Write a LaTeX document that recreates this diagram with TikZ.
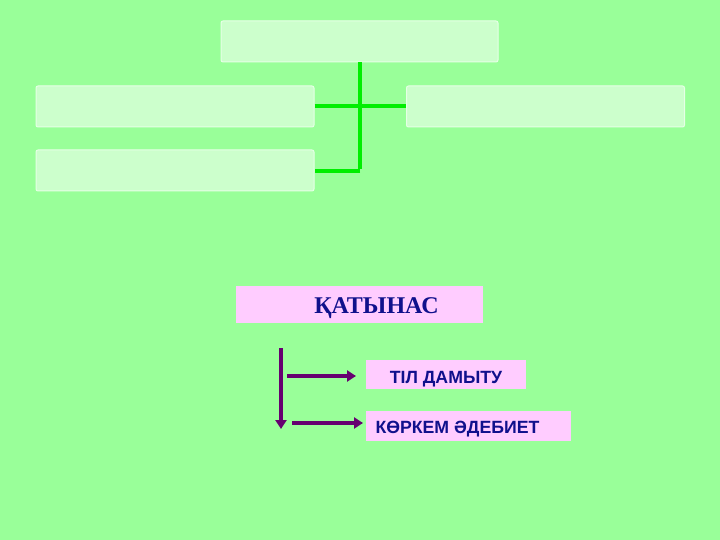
\documentclass[tikz,border=0pt]{standalone}
\usepackage{fontspec}
\setmainfont{Liberation Serif}
\newfontfamily\arialfont{Liberation Sans}
\usetikzlibrary{arrows.meta}
\definecolor{bg}{HTML}{99FF99}
\definecolor{boxfill}{HTML}{CCFFCC}
\definecolor{boxedge}{HTML}{E6FFE6}
\definecolor{linegreen}{HTML}{00EE00}
\definecolor{pinkfill}{HTML}{FFCCFF}
\definecolor{navy}{HTML}{10108C}
\definecolor{plum}{HTML}{660070}
\tikzset{
  greenbox/.style={draw=boxedge, line width=1pt, fill=boxfill, rounded corners=2pt, inner sep=0pt},
  pinkbox/.style={fill=pinkfill, inner sep=0pt},
  treeline/.style={draw=linegreen, line width=3.2pt},
  purplearrow/.style={draw=plum, line width=4pt, -{Triangle[length=9pt,width=11pt]}},
}
\begin{document}
\begin{tikzpicture}[x=1pt,y=-1pt]
\fill[bg] (0,0) rectangle (720,540);
\useasboundingbox (0,0) rectangle (720,540);
% green boxes
\node[greenbox, minimum width=277pt, minimum height=41pt] (top) at (359.5,41.5) {};
\node[greenbox, minimum width=278pt, minimum height=41pt] (left1) at (175,106.5) {};
\node[greenbox, minimum width=278pt, minimum height=41pt] (right1) at (545.5,106.5) {};
\node[greenbox, minimum width=278pt, minimum height=41pt] (left2) at (175,170.5) {};
\coordinate (jbot) at (360,171);
\coordinate (jmid) at (360,106);
% green connectors
\draw[treeline] (top.south -| jbot) -- ([yshift=1.6pt]jbot);
\draw[treeline] (left1.east |- jmid) -- (right1.west |- jmid);
\draw[treeline] (jbot) -- (left2.east |- jbot);
% pink boxes
\node[pinkbox, minimum width=247pt, minimum height=37pt] (kat) at (359.5,304) {};
\node[text=navy, font=\bfseries\fontsize{24}{26}\selectfont, anchor=base] (kattext) at (376.5,313.5) {ҚАТЫНАС};
\node[pinkbox, minimum width=160pt, minimum height=29pt] (til) at (445.7,374.7) {};
\node[text=navy, font=\arialfont\bfseries\fontsize{17.7}{19}\selectfont, anchor=base] (tiltext) at (446,383) {ТІЛ ДАМЫТУ};
\node[pinkbox, minimum width=205pt, minimum height=30pt] (kor) at (468.2,425.7) {};
\node[text=navy, font=\arialfont\bfseries\fontsize{17.7}{19}\selectfont, anchor=base] (kortext) at (457.5,433.5) {КӨРКЕМ ӘДЕБИЕТ};
% purple arrows
\coordinate (vtop) at (281,348);
\coordinate (vbot) at (281,429);
\coordinate (a1s) at (287,376);
\coordinate (a1e) at (356,376);
\coordinate (a2s) at (292,423);
\coordinate (a2e) at (363,423);
\draw[purplearrow] (vtop) -- (vbot);
\draw[purplearrow] (a1s) -- (a1e);
\draw[purplearrow] (a2s) -- (a2e);
\end{tikzpicture}
\end{document}
